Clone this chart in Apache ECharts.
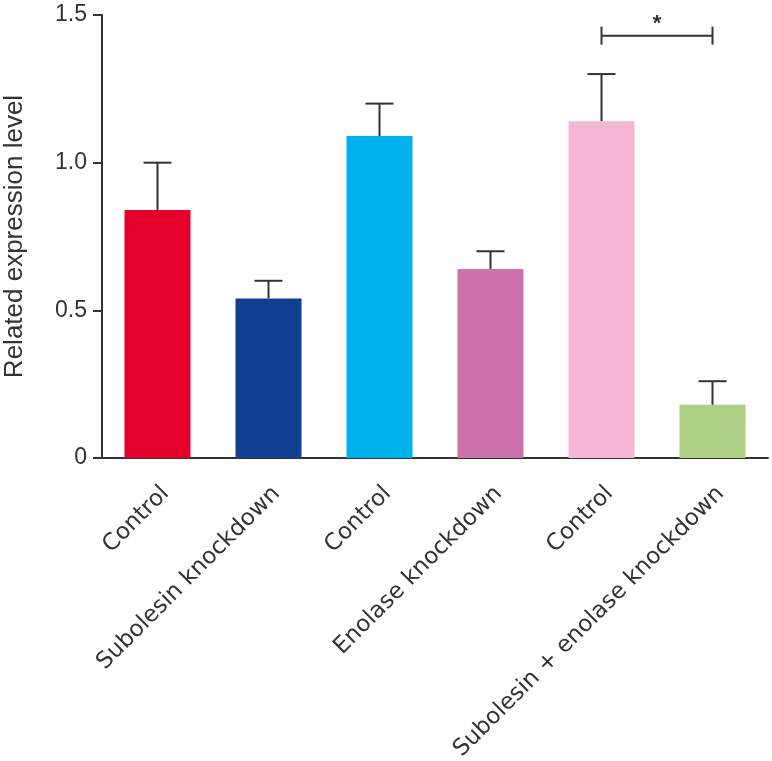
<!DOCTYPE html>
<html><head><meta charset="utf-8">
<script src="https://cdn.jsdelivr.net/npm/echarts@6/dist/echarts.min.js"></script>
<style>html,body{margin:0;padding:0;background:#fff}#c{width:772px;height:761px}</style>
</head><body><div id="c"></div>
<script>
var categories = ['Control', 'Subolesin knockdown', 'Control', 'Enolase knockdown', 'Control', 'Subolesin + enolase knockdown'];
var means = [0.84, 0.54, 1.09, 0.64, 1.14, 0.18];
var errTops = [1.00, 0.60, 1.20, 0.70, 1.30, 0.26];
var barColors = ['#E4002B', '#103F91', '#00B2EB', '#CC71AC', '#F5B6D4', '#ABD084'];
var yTicks = [0, 0.5, 1.0, 1.5];
var sigPairs = [[4, 5, 1.43, '*']];

var chart = echarts.init(document.getElementById('c'));
var axisColor = '#333';
chart.setOption({
  animation: false,
  grid: {left: 102, right: 4, top: 15, bottom: 303, containLabel: false, outerBoundsMode: 'none'},
  xAxis: {
    type: 'category', data: categories,
    axisLine: {lineStyle: {color: axisColor, width: 2}},
    axisTick: {alignWithLabel: true, length: 8, lineStyle: {color: axisColor, width: 2}},
    axisLabel: {rotate: 45, interval: 0, margin: 24, align: 'right', verticalAlign: 'top',
      color: '#333', fontSize: 23, fontFamily: 'DejaVu Sans'}
  },
  yAxis: {
    type: 'value', min: yTicks[0], max: yTicks[yTicks.length - 1], interval: 0.5,
    name: 'Related expression level', nameLocation: 'middle', nameGap: 74, nameMoveOverlap: false,
    nameTextStyle: {fontSize: 26, color: '#333', fontFamily: 'Liberation Sans'},
    splitLine: {show: false},
    axisLine: {show: true, lineStyle: {color: axisColor, width: 2}},
    axisTick: {show: true, length: 9, lineStyle: {color: axisColor, width: 2}},
    axisLabel: {margin: 15, color: '#333', fontSize: 23, fontFamily: 'Liberation Sans',
      formatter: function (v) { return v === 0 ? '0' : v.toFixed(1); }}
  },
  series: [
    {
      type: 'bar', barWidth: 66,
      data: means.map(function (v, i) { return {value: v, itemStyle: {color: barColors[i]}}; }),
      z: 2
    },
    {
      type: 'custom', z: 1,
      data: means.map(function (v, i) { return [i, v, errTops[i]]; }),
      renderItem: function (params, api) {
        var b = api.coord([api.value(0), api.value(1)]);
        var t = api.coord([api.value(0), api.value(2)]);
        var half = 14;
        return {type: 'group', children: [
          {type: 'line', shape: {x1: b[0], y1: b[1], x2: t[0], y2: t[1]}, style: {stroke: '#333', lineWidth: 2}},
          {type: 'line', shape: {x1: t[0] - half, y1: t[1], x2: t[0] + half, y2: t[1]}, style: {stroke: '#333', lineWidth: 2}}
        ]};
      }
    },
    {
      type: 'custom', z: 3,
      data: sigPairs,
      renderItem: function (params, api) {
        var a = api.coord([api.value(0), api.value(2)]);
        var b = api.coord([api.value(1), api.value(2)]);
        var h = 9;
        return {type: 'group', children: [
          {type: 'line', shape: {x1: a[0], y1: a[1], x2: b[0], y2: b[1]}, style: {stroke: '#333', lineWidth: 2}},
          {type: 'line', shape: {x1: a[0], y1: a[1] - h, x2: a[0], y2: a[1] + h}, style: {stroke: '#333', lineWidth: 2}},
          {type: 'line', shape: {x1: b[0], y1: b[1] - h, x2: b[0], y2: b[1] + h}, style: {stroke: '#333', lineWidth: 2}},
          {type: 'text', style: {text: sigPairs[params.dataIndex][3], x: (a[0] + b[0]) / 2, y: a[1] - 1,
            textAlign: 'center', textVerticalAlign: 'bottom', fontSize: 22, fontWeight: 'bold', fill: '#333', fontFamily: 'Liberation Sans'}}
        ]};
      }
    }
  ]
});
// small extension of the x-axis line to the left of the y-axis (GraphPad style)
var origin = chart.convertToPixel({gridIndex: 0}, [0, 0]);
var leftPx = chart.getModel().getComponent('grid').coordinateSystem.getRect().x;
chart.setOption({graphic: [{type: 'line', silent: true,
  shape: {x1: leftPx - 9, y1: origin[1], x2: leftPx, y2: origin[1]},
  style: {stroke: axisColor, lineWidth: 2}}]});
</script></body></html>
